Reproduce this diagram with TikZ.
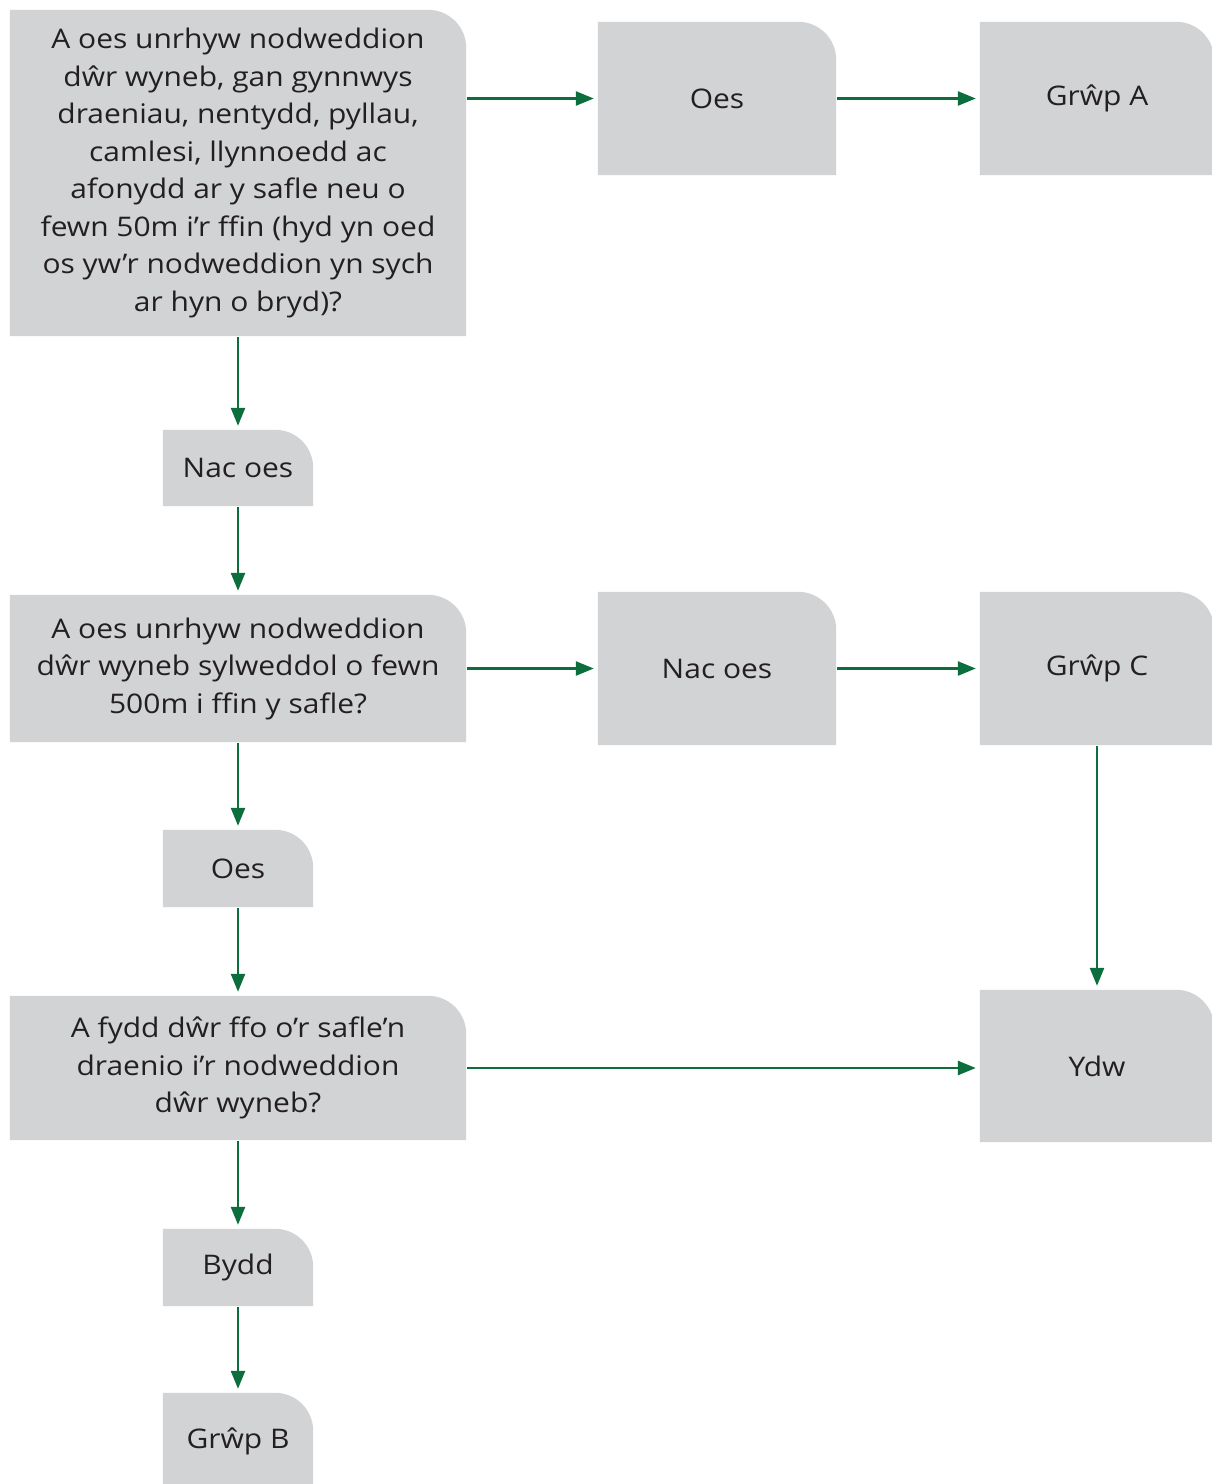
\documentclass[tikz,border=0pt]{standalone}
\usepackage{fontspec}
\setmainfont{Open Sans}[FakeStretch=1.11]
\usetikzlibrary{arrows.meta,backgrounds,calc}
\definecolor{boxgray}{HTML}{D1D3D4}
\definecolor{arrowgreen}{HTML}{0B6E3C}
\definecolor{txt}{HTML}{231F20}
\tikzset{
  fbox/.style={rectangle, inner sep=0pt, align=center, text=txt,
    font=\fontsize{27}{37.5}\selectfont},
  flow/.style={draw=arrowgreen, line width=2.5pt,
    -{Triangle[length=18pt,width=14pt]}, shorten >=4pt, shorten <=1pt},
}
\newcommand\bgbox[1]{%
  \fill[boxgray] (#1.south west) -- (#1.north west) -- ($(#1.north east)+(-38,0)$)
    arc[start angle=90,end angle=0,radius=38] -- (#1.south east) -- cycle;}
\begin{document}
\begin{tikzpicture}[x=1pt,y=1pt]
\useasboundingbox (0,0) rectangle (1212,-1484);
\node[fbox, minimum width=456, minimum height=326] (q1) at (238,-173)
  {A oes unrhyw nodweddion\\ dŵr wyneb, gan gynnwys\\ draeniau, nentydd, pyllau,\\ camlesi, llynnoedd ac\\ afonydd ar y safle neu o\\ fewn 50m i’r ffin (hyd yn oed\\ os yw’r nodweddion yn sych\\ ar hyn o bryd)?};
\node[fbox, minimum width=238, minimum height=153] (oes1) at (717,-98.5) {Oes};
\node[fbox, minimum width=234, minimum height=153] (ga) at (1097,-98.5) {Grŵp A};
\node[fbox, minimum width=150, minimum height=76] (nac1) at (238,-468) {Nac oes};
\node[fbox, minimum width=456, minimum height=147] (q2) at (238,-668.5)
  {A oes unrhyw nodweddion\\ dŵr wyneb sylweddol o fewn\\ 500m i ffin y safle?};
\node[fbox, minimum width=238, minimum height=153] (nac2) at (717,-668.5) {Nac oes};
\node[fbox, minimum width=234, minimum height=153] (gc) at (1097,-668.5) {Grŵp C};
\node[fbox, minimum width=150, minimum height=77] (oes2) at (238,-868.5) {Oes};
\node[fbox, minimum width=456, minimum height=144] (q3) at (238,-1068)
  {A fydd dŵr ffo o’r safle’n\\ draenio i’r nodweddion\\ dŵr wyneb?};
\node[fbox, minimum width=234, minimum height=152] (ydw) at (1097,-1066) {Ydw};
\node[fbox, minimum width=150, minimum height=77] (bydd) at (238,-1267.5) {Bydd};
\node[fbox, minimum width=150, minimum height=97] (gb) at (238,-1441.5) {Grŵp B};
\begin{scope}[on background layer]
\foreach \n in {q1,oes1,ga,nac1,q2,nac2,gc,oes2,q3,ydw,bydd,gb}{\bgbox{\n}}
\end{scope}
\draw[flow] (q1.east |- oes1) -- (oes1);
\draw[flow] (oes1) -- (ga);
\draw[flow] (q1) -- (nac1);
\draw[flow] (nac1) -- (q2);
\draw[flow] (q2) -- (nac2);
\draw[flow] (nac2) -- (gc);
\draw[flow] (gc) -- (ydw);
\draw[flow] (q2) -- (oes2);
\draw[flow] (oes2) -- (q3);
\draw[flow] (q3.east) -- (ydw.west |- q3.east);
\draw[flow] (q3) -- (bydd);
\draw[flow] (bydd) -- (gb);
\end{tikzpicture}
\end{document}
